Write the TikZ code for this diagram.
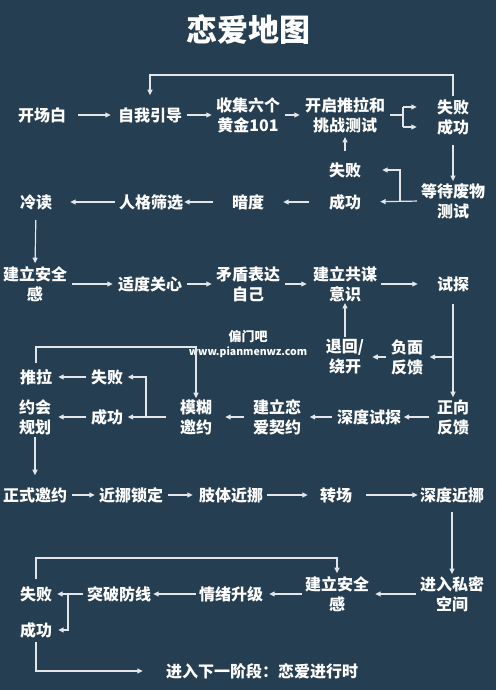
\documentclass[tikz,border=0pt]{standalone}
\usepackage{fontspec}
\setmainfont{Noto Sans CJK SC}
\usetikzlibrary{arrows.meta,calc}
\definecolor{bg}{HTML}{263E51}
\definecolor{lc}{HTML}{E2E6EA}
\tikzset{
 lbl/.style={text=white, inner sep=0pt, font=\fontsize{16}{20}\selectfont\bfseries, align=center},
 arr/.style={draw=lc, line width=1.2pt, -{Triangle[length=5.5pt,width=5pt]}},
 plain/.style={draw=lc, line width=1.2pt},
}
\begin{document}
\begin{tikzpicture}[x=1pt,y=-1pt]
\fill[bg] (0,0) rectangle (496,690);
\useasboundingbox (0,0) rectangle (496,690);
\node[text=white, inner sep=0pt, font=\fontsize{31}{36}\selectfont\bfseries] (title) at (248,30) {恋爱地图};
% row 1
\node[lbl] (n1) at (42,115) {开场白};
\node[lbl] (n2) at (150,115) {自我引导};
\node[lbl] (n3) at (248,115) {收集六个\\黄金101};
\node[lbl] (n4) at (345,115) {开启推拉和\\挑战测试};
\node[lbl] (n5a) at (453,107) {失败};
\node[lbl] (n5b) at (453,127) {成功};
% row 2
\node[lbl] (n6) at (453,201) {等待废物\\测试};
\node[lbl] (n7) at (345,170) {失败};
\node[lbl] (n8) at (345,202) {成功};
\node[lbl] (n9) at (248,202) {暗度};
\node[lbl] (n10) at (151,202) {人格筛选};
\node[lbl] (n11) at (36,202) {冷读};
% row 3
\node[lbl] (n12) at (35,284) {建立安全\\感};
\node[lbl] (n13) at (150,284) {适度关心};
\node[lbl] (n14) at (248,284) {矛盾表达\\自己};
\node[lbl] (n15) at (345,284) {建立共谋\\意识};
\node[lbl] (n16) at (453,284) {试探};
\node[lbl] (n17) at (407,357) {负面\\反馈};
\node[lbl] (n18) at (345,357) {退回/\\绕开};
% row 4
\node[lbl] (n19) at (453,417) {正向\\反馈};
\node[lbl] (n20) at (369,417) {深度试探};
\node[lbl] (n21) at (277,417) {建立恋\\爱契约};
\node[lbl] (n22) at (196,417) {模糊\\邀约};
\node[lbl] (n23) at (107,377) {失败};
\node[lbl] (n24) at (107,417) {成功};
\node[lbl] (n25) at (36,377) {推拉};
\node[lbl] (n26) at (35,417) {约会\\规划};
% row 5
\node[lbl] (n27) at (35,495) {正式邀约};
\node[lbl] (n28) at (131,495) {近挪锁定};
\node[lbl] (n29) at (231,495) {肢体近挪};
\node[lbl] (n30) at (336,495) {转场};
\node[lbl] (n31) at (452,495) {深度近挪};
% row 6
\node[lbl] (n32) at (452,594) {进入私密\\空间};
\node[lbl] (n33) at (337,594) {建立安全\\感};
\node[lbl] (n34) at (231,594) {情绪升级};
\node[lbl] (n35) at (119,594) {突破防线};
\node[lbl] (n36) at (36,594) {失败};
\node[lbl] (n37) at (36,630) {成功};
\node[lbl] (n38) at (262,671) {进入下一阶段：恋爱进行时};
% watermark
\node[text=white, inner sep=0pt, font=\fontsize{13}{13}\selectfont\bfseries] (wm1) at (248,337) {偏门吧};
\node[text=white, inner sep=0pt, font=\fontsize{10.5}{11}\selectfont\bfseries] (wm2) at (248,352) {www.pianmenwz.com};
% coordinates
\coordinate (fk) at (403,115);
\coordinate (tp1) at (300,75);
\coordinate (b1) at (400,202);
\coordinate (b2) at (453,357);
\coordinate (b3) at (146,417);
\coordinate (tp2) at (100,347);
\coordinate (b4) at (68,594);
\coordinate (tp3) at (200,558);
% row 1 connectors
\draw[arr,shorten <=12pt,shorten >=7pt] (n1.east) -- (n2.west);
\draw[arr,shorten <=5pt,shorten >=4pt] (n2.east) -- (n3.west);
\draw[arr,shorten <=5pt,shorten >=5pt] (n3.east) -- (n4.west);
\draw[plain,shorten <=5pt] (n4.east) -- (fk);
\draw[plain] (fk |- n5a) -- (fk |- n5b);
\draw[arr,shorten >=20pt] (fk |- n5a) -- (n5a.west);
\draw[arr,shorten >=20pt] (fk |- n5b) -- (n5b.west);
\draw[arr,shorten <=3pt,shorten >=12pt] (n5a.north) |- (tp1) -| (n2.north);
\draw[arr,shorten <=10pt,shorten >=2pt] (n5b.south) -- (n6.north);
% row 2 connectors
\draw[arr,shorten <=4pt,shorten >=19pt] (n6.west) -- (n8.east);
\draw[arr,shorten >=21pt] (b1) |- (n7.east);
\draw[arr,shorten <=11pt,shorten >=4pt] (n7.north) -- (n4.south);
\draw[arr,shorten <=20pt,shorten >=19pt] (n8.west) -- (n9.east);
\draw[arr,shorten <=19pt,shorten >=1pt] (n9.west) -- (n10.east);
\draw[arr,shorten <=4pt,shorten >=18pt] (n10.west) -- (n11.east);
\draw[arr,shorten <=10pt,shorten >=3pt] (n11.south) -- (n12.north);
% row 3 connectors
\draw[arr,shorten <=5pt,shorten >=5pt] (n12.east) -- (n13.west);
\draw[arr,shorten <=5pt,shorten >=4pt] (n13.east) -- (n14.west);
\draw[arr,shorten <=5pt,shorten >=6pt] (n14.east) -- (n15.west);
\draw[arr,shorten <=4pt,shorten >=19pt] (n15.east) -- (n16.west);
\draw[arr,shorten <=12pt,shorten >=2pt] (n16.south) -- (n19.north);
\draw[arr,shorten >=6.5pt] (b2) -- (n17.east);
\draw[arr,shorten <=4.5pt,shorten >=8pt] (n17.west) -- (n18.east);
\draw[arr,shorten <=2pt,shorten >=1pt] (n18.north) -- (n15.south);
% row 4 connectors
\draw[arr,shorten <=8pt,shorten >=2.5pt] (n19.west) -- (n20.east);
\draw[arr,shorten <=4.5pt,shorten >=8.5pt] (n20.west) -- (n21.east);
\draw[arr,shorten <=8.5pt,shorten >=13pt] (n21.west) -- (n22.east);
\draw[arr,shorten <=14pt,shorten >=4.5pt] (n22.west) -- (n24.east);
\draw[arr,shorten >=4.5pt] (b3) |- (n23.east);
\draw[arr,shorten <=4.5pt,shorten >=6pt] (n23.west) -- (n25.east);
\draw[arr,shorten <=4.5pt,shorten >=7pt] (n24.west) -- (n26.east);
\draw[arr,shorten <=6pt,shorten >=1pt] (n25.north) |- (tp2) -| (n22.north);
\draw[arr,shorten <=2pt,shorten >=12pt] (n26.south) -- (n27.north);
% row 5 connectors
\draw[arr,shorten <=5pt,shorten >=4pt] (n27.east) -- (n28.west);
\draw[arr,shorten <=5pt,shorten >=6pt] (n28.east) -- (n29.west);
\draw[arr,shorten <=4pt,shorten >=12pt] (n29.east) -- (n30.west);
\draw[arr,shorten <=14pt,shorten >=2pt] (n30.east) -- (n31.west);
\draw[arr,shorten <=9pt,shorten >=2pt] (n31.south) -- (n32.north);
% row 6 connectors
\draw[arr,shorten <=4pt,shorten >=6pt] (n32.west) -- (n33.east);
\draw[arr,shorten <=3pt,shorten >=6pt] (n33.west) -- (n34.east);
\draw[arr,shorten <=3pt,shorten >=2pt] (n34.west) -- (n35.east);
\draw[arr,shorten <=4pt,shorten >=5pt] (n35.west) -- (n36.east);
\draw[arr,shorten >=6pt] (b4) |- (n37.east);
\draw[arr,shorten <=7pt,shorten >=3pt] (n36.north) |- (tp3) -| (n33.north);
\draw[arr,shorten <=4pt,shorten >=23pt] (n37.south) |- (n38.west);
\end{tikzpicture}
\end{document}
